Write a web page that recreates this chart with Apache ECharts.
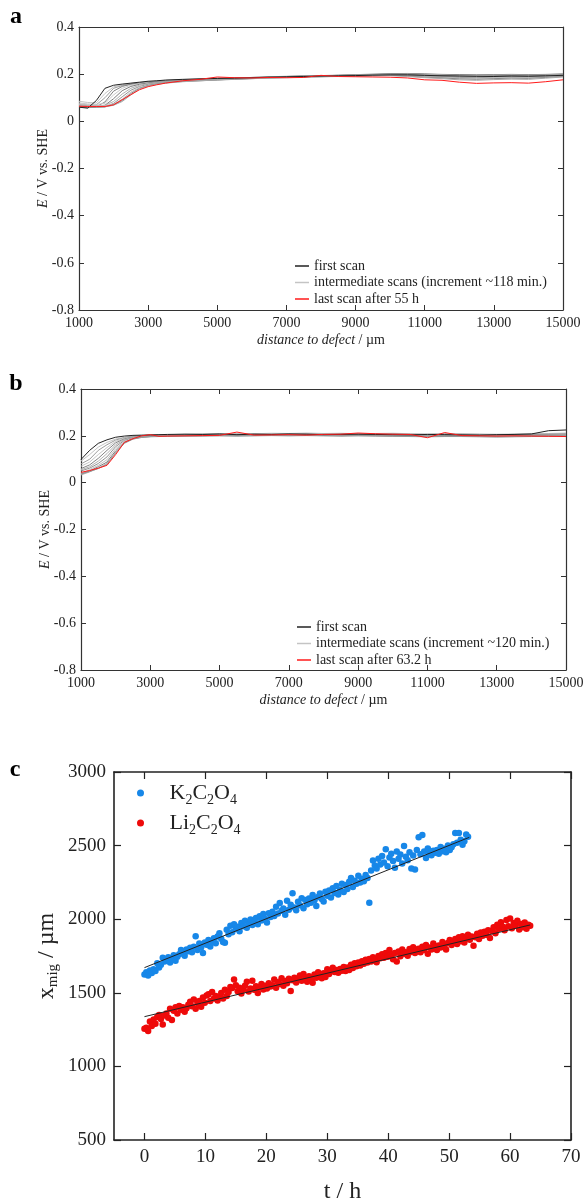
<!DOCTYPE html>
<html>
<head>
<meta charset="utf-8">
<title>SKP scans and delamination front</title>
<script src="https://cdn.jsdelivr.net/npm/echarts@6/dist/echarts.min.js"></script>
<style>
  html, body { margin: 0; padding: 0; background: #fff; }
  #main { width: 584px; height: 1201px; }
</style>
</head>
<body>
<div id="main"></div>
<script>
var FONT = "'Liberation Serif', 'Times New Roman', serif";

// ---- panels a / b : potential profiles (mV vs. SHE) ----
var distance = [1000, 1250, 1500, 1750, 2000, 2250, 2500, 2750, 3000, 3250, 3500,
  4000, 4500, 5000, 5500, 6000, 6500, 7000, 7500, 8000, 8500, 9000, 9500, 10000,
  10500, 11000, 11500, 12000, 12500, 13000, 13500, 14000, 14500, 15000];
var distTicks = [1000, 3000, 5000, 7000, 9000, 11000, 13000, 15000];

var firstScanA = [60, 56, 88, 140, 153, 158, 162, 166, 170, 172, 175, 178, 180, 182, 183, 185, 187,
  189, 190, 192, 193, 194, 196, 197, 197, 195, 193, 192, 191, 190, 192, 191, 193, 195];
var lastScanA = [64, 63, 63, 63, 70, 92, 113, 134, 147, 155, 162, 172, 178, 188, 185, 184, 186,
  185, 186, 195, 190, 189, 188, 187, 184, 176, 174, 166, 161, 163, 164, 162, 168, 176];
var midScansA = [
  [85, 80, 78, 118, 146, 155, 160, 164, 168, 171, 174, 177, 181, 183, 185, 186, 188, 190, 192, 193, 195, 197, 198, 199, 200, 199, 197, 196, 195, 194, 195, 196, 197, 198],
  [72, 66, 70, 100, 140, 152, 158, 163, 167, 170, 173, 176, 179, 182, 184, 186, 189, 191, 193, 194, 196, 197, 199, 201, 202, 200, 198, 197, 196, 196, 197, 197, 198, 200],
  [62, 58, 62, 82, 128, 148, 157, 162, 166, 169, 172, 175, 178, 181, 183, 186, 188, 190, 192, 193, 195, 198, 200, 202, 203, 201, 199, 198, 197, 198, 199, 198, 199, 201],
  [78, 74, 72, 76, 112, 140, 153, 160, 165, 168, 172, 174, 177, 180, 182, 184, 186, 189, 191, 193, 194, 196, 198, 199, 200, 198, 196, 194, 193, 195, 196, 195, 196, 199],
  [66, 62, 64, 68, 96, 130, 148, 157, 163, 167, 170, 173, 176, 179, 182, 184, 187, 189, 191, 192, 194, 196, 198, 200, 199, 196, 194, 192, 191, 193, 194, 193, 195, 197],
  [70, 68, 66, 68, 84, 116, 140, 153, 160, 165, 169, 172, 175, 178, 181, 183, 186, 188, 190, 192, 193, 195, 197, 198, 196, 193, 191, 189, 188, 190, 191, 190, 192, 195],
  [60, 58, 60, 62, 76, 104, 132, 148, 157, 163, 167, 171, 174, 177, 180, 182, 185, 187, 189, 191, 192, 194, 196, 197, 195, 191, 188, 186, 185, 187, 188, 187, 190, 193],
  [74, 70, 68, 66, 72, 94, 124, 143, 154, 161, 165, 170, 173, 176, 179, 182, 184, 186, 188, 190, 191, 193, 195, 196, 193, 189, 186, 183, 182, 184, 186, 185, 188, 192],
  [62, 60, 60, 61, 70, 88, 118, 140, 152, 159, 164, 169, 172, 175, 178, 181, 184, 186, 188, 189, 191, 192, 194, 195, 192, 187, 184, 180, 178, 181, 183, 182, 186, 190],
  [66, 63, 62, 62, 68, 84, 112, 138, 150, 157, 162, 168, 172, 176, 179, 181, 183, 185, 187, 189, 190, 191, 193, 194, 190, 185, 181, 176, 174, 177, 179, 178, 183, 188]
];

var firstScanB = [99, 138, 168, 183, 194, 199, 202, 203, 204, 205, 206, 207, 206, 208, 205, 207, 206,
  208, 207, 205, 206, 207, 206, 205, 204, 206, 205, 204, 203, 205, 206, 208, 222, 225];
var lastScanB = [44, 52, 62, 74, 120, 172, 188, 200, 205, 198, 199, 200, 201, 202, 216, 203, 204,
  205, 203, 206, 207, 212, 209, 207, 206, 192, 214, 201, 200, 199, 200, 199, 198, 197];
var midScansB = [
  [92, 120, 152, 172, 186, 194, 199, 201, 203, 204, 205, 207, 208, 209, 210, 209, 211, 210, 212, 210, 211, 209, 210, 211, 209, 208, 210, 209, 208, 207, 208, 209, 210, 212],
  [80, 100, 138, 162, 182, 192, 198, 201, 203, 203, 204, 206, 207, 208, 207, 208, 209, 208, 210, 209, 208, 210, 208, 209, 207, 206, 208, 207, 206, 205, 206, 207, 208, 209],
  [70, 88, 120, 150, 176, 190, 196, 200, 202, 203, 204, 205, 206, 207, 208, 209, 208, 210, 209, 208, 209, 208, 207, 208, 206, 205, 207, 206, 205, 204, 205, 206, 207, 208],
  [60, 76, 104, 138, 170, 187, 195, 199, 201, 202, 203, 204, 205, 206, 205, 207, 206, 208, 207, 206, 207, 206, 205, 207, 205, 204, 205, 205, 204, 203, 204, 205, 206, 207],
  [55, 68, 92, 124, 162, 184, 194, 198, 200, 201, 202, 204, 203, 205, 206, 205, 207, 206, 205, 207, 206, 205, 206, 205, 203, 202, 204, 203, 202, 201, 202, 203, 204, 205],
  [50, 62, 82, 110, 154, 180, 192, 197, 199, 200, 201, 202, 203, 204, 203, 204, 205, 204, 206, 205, 204, 203, 204, 203, 202, 201, 202, 201, 200, 200, 201, 202, 203, 204],
  [40, 56, 74, 98, 145, 176, 190, 196, 198, 199, 200, 201, 202, 203, 202, 203, 204, 203, 204, 203, 202, 203, 202, 201, 200, 199, 200, 200, 199, 198, 199, 200, 201, 203],
  [36, 50, 68, 88, 136, 172, 188, 195, 197, 198, 199, 200, 201, 202, 201, 202, 203, 202, 203, 202, 201, 202, 201, 200, 199, 198, 199, 199, 198, 197, 198, 199, 200, 202],
  [33, 46, 62, 82, 130, 170, 187, 194, 197, 198, 199, 200, 200, 201, 200, 201, 202, 201, 202, 201, 200, 201, 200, 199, 198, 197, 198, 198, 197, 196, 197, 198, 199, 201],
  [38, 48, 60, 78, 126, 168, 186, 193, 196, 197, 198, 199, 199, 200, 199, 200, 201, 200, 201, 200, 199, 200, 199, 198, 197, 196, 197, 197, 196, 195, 196, 197, 198, 200]
];

// ---- panel c : front position x_mig (µm), one value per scan ----
var kStepH = 0.3;   // time between K2C2O4 points (h)
var liStepH = 0.3;  // time between Li2C2O4 points (h)
var kXmig = [
  1625, 1640, 1618, 1652, 1635, 1660, 1648, 1700, 1672, 1690,
  1738, 1712, 1725, 1742, 1705, 1730, 1755, 1718, 1745, 1762,
  1790, 1768, 1752, 1795, 1782, 1806, 1776, 1812, 1885, 1790,
  1835, 1808, 1770, 1842, 1826, 1858, 1815, 1848, 1870, 1836,
  1882, 1905, 1868, 1845, 1840, 1928, 1897, 1955, 1912, 1966,
  1935, 1948, 1918, 1975, 1952, 1990, 1942, 1968, 1998, 1960,
  1985, 2008, 1966, 2020, 1992, 2035, 2002, 1978, 2040, 2015,
  2050, 2022, 2085, 2038, 2110, 2058, 2072, 2030, 2125, 2064,
  2098, 2176, 2080, 2060, 2118, 2095, 2142, 2075, 2130, 2102,
  2140, 2112, 2165, 2128, 2090, 2150, 2175, 2138, 2120, 2186,
  2160, 2195, 2148, 2210, 2178, 2225, 2168, 2200, 2240, 2185,
  2232, 2205, 2255, 2280, 2218, 2262, 2240, 2296, 2250, 2275,
  2258, 2300, 2280, 2112, 2330, 2398, 2365, 2345, 2410, 2372,
  2430, 2385, 2475, 2360, 2420, 2445, 2395, 2350, 2460, 2410,
  2440, 2378, 2498, 2425, 2400, 2455, 2345, 2432, 2338, 2470,
  2557, 2442, 2572, 2460, 2415, 2480, 2448, 2435, 2465, 2452,
  2470, 2445, 2490, 2462, 2478, 2455, 2500, 2470, 2488, 2510,
  2585, 2520, 2585, 2540, 2505, 2530, 2575, 2560
];
var liXmig = [
  1255, 1262, 1240, 1305, 1275, 1318, 1290, 1335, 1350, 1322,
  1285, 1345, 1360, 1330, 1392, 1315, 1378, 1402, 1360, 1410,
  1385, 1402, 1372, 1395, 1418, 1440, 1408, 1455, 1392, 1430,
  1445, 1405, 1468, 1432, 1482, 1490, 1445, 1505, 1462, 1478,
  1448, 1470, 1498, 1462, 1520, 1478, 1505, 1540, 1532, 1590,
  1552, 1510, 1535, 1495, 1522, 1548, 1575, 1508, 1530, 1582,
  1520, 1545, 1498, 1538, 1560, 1522, 1548, 1530, 1565, 1542,
  1552, 1590, 1535, 1572, 1560, 1598, 1548, 1580, 1565, 1595,
  1512, 1585, 1602, 1570, 1595, 1618, 1582, 1628, 1600, 1575,
  1612, 1590, 1568, 1625, 1602, 1640, 1615, 1598, 1632, 1608,
  1660, 1628, 1648, 1670, 1642, 1655, 1636, 1662, 1650, 1675,
  1648, 1672, 1655, 1690, 1668, 1700, 1680, 1705, 1685, 1715,
  1698, 1725, 1705, 1730, 1712, 1742, 1722, 1708, 1750, 1735,
  1762, 1738, 1770, 1745, 1790, 1755, 1728, 1770, 1712, 1780,
  1748, 1795, 1765, 1775, 1752, 1798, 1778, 1810, 1770, 1792,
  1800, 1775, 1812, 1790, 1825, 1765, 1808, 1795, 1835, 1812,
  1790, 1822, 1808, 1845, 1815, 1795, 1838, 1858, 1825, 1848,
  1865, 1832, 1878, 1850, 1885, 1842, 1870, 1895, 1860, 1882,
  1820, 1878, 1902, 1865, 1910, 1888, 1915, 1895, 1925, 1872,
  1920, 1945, 1905, 1962, 1935, 1980, 1948, 1925, 1995, 1952,
  2005, 1938, 1975, 1960, 1990, 1930, 1968, 1945, 1978, 1935,
  1962, 1955
];
var kFit = [[0, 1671], [53.3, 2556]];
var liFit = [[0, 1338], [63.3, 1961]];
var timeTicks = [0, 10, 20, 30, 40, 50, 60, 70];

// ---- styles ----
var shadesA = ['#c4c4c4', '#9c9c9c', '#808080', '#cacaca', '#7c7c7c', '#b0b0b0', '#949494', '#bebebe', '#888888', '#a8a8a8'];
var shadesB = ['#c4c4c4', '#9c9c9c', '#c6c6c6', '#848484', '#b0b0b0', '#929292', '#c0c0c0', '#7c7c7c', '#acacac', '#949494'];
var nameMidA = 'intermediate scans (increment ~118 min.)';
var nameMidB = 'intermediate scans (increment ~120 min.)';
var nameLastA = 'last scan after 55 h';
var nameLastB = 'last scan after 63.2 h';

function toVolts(ys) {
  return ys.map(function (v, i) { return [distance[i], v / 1000]; });
}
function toTime(ys, step) {
  return ys.map(function (v, i) { return [i * step, v]; });
}
function lineSeries(name, data, color, ax, z) {
  return {
    type: 'line', name: name, xAxisIndex: ax, yAxisIndex: ax, data: data,
    symbol: 'none', showSymbol: false, silent: true, z: z,
    lineStyle: { width: 1, color: color }, itemStyle: { color: color }
  };
}

var series = [];
midScansA.forEach(function (s, k) { series.push(lineSeries(nameMidA, toVolts(s), shadesA[k], 0, 2)); });
series.push(lineSeries('first scan', toVolts(firstScanA), '#222', 0, 3));
series.push(lineSeries(nameLastA, toVolts(lastScanA), '#ff1a1a', 0, 4));
midScansB.forEach(function (s, k) { series.push(lineSeries(nameMidB, toVolts(s), shadesB[k], 2, 2)); });
series.push(lineSeries('first scan', toVolts(firstScanB), '#222', 2, 3));
series.push(lineSeries(nameLastB, toVolts(lastScanB), '#ff1a1a', 2, 4));

series.push({ type: 'scatter', name: 'K2C2O4', xAxisIndex: 4, yAxisIndex: 4, data: toTime(kXmig, kStepH),
  symbolSize: 6.5, itemStyle: { color: '#1787e8', opacity: 1 }, z: 2 });
series.push({ type: 'scatter', name: 'Li2C2O4', xAxisIndex: 4, yAxisIndex: 4, data: toTime(liXmig, liStepH),
  symbolSize: 6.5, itemStyle: { color: '#ee0a0a', opacity: 1 }, z: 2 });
series.push({ type: 'line', xAxisIndex: 4, yAxisIndex: 4, data: kFit, symbol: 'none', silent: true,
  lineStyle: { width: 1, color: '#222' }, z: 5 });
series.push({ type: 'line', xAxisIndex: 4, yAxisIndex: 4, data: liFit, symbol: 'none', silent: true,
  lineStyle: { width: 1, color: '#222' }, z: 5 });

var axisCol = '#333';
var labelSmall = { fontFamily: FONT, fontSize: 14, color: '#222' };
var labelBig = { fontFamily: FONT, fontSize: 19, color: '#222' };

function potFmt(v) { return Math.abs(v) < 1e-9 ? '0' : v.toFixed(1); }
function plainFmt(v) { return String(v); }

function distAxes(grid) {
  var base = {
    type: 'value', gridIndex: grid, min: 1000, max: 15000,
    splitLine: { show: false },
    axisLine: { onZero: false, lineStyle: { color: axisCol, width: 1.2 } },
    axisTick: { inside: true, length: 5, customValues: distTicks, lineStyle: { color: axisCol } }
  };
  var bottom = Object.assign({}, base, {
    position: 'bottom',
    axisLabel: Object.assign({ customValues: distTicks, formatter: plainFmt, margin: 6 }, labelSmall),
    name: '{i|distance to defect}{n| / µm}', nameLocation: 'middle', nameGap: 23, nameMoveOverlap: false,
    nameTextStyle: { rich: {
      i: { fontFamily: FONT, fontSize: 14, fontStyle: 'italic', color: '#222' },
      n: { fontFamily: FONT, fontSize: 14, color: '#222' } } }
  });
  var top = Object.assign({}, base, { position: 'top', axisLabel: { show: false } });
  return [bottom, top];
}
function potAxes(grid) {
  var base = {
    type: 'value', gridIndex: grid, min: -0.8, max: 0.4, interval: 0.2,
    splitLine: { show: false },
    axisLine: { show: true, onZero: false, lineStyle: { color: axisCol, width: 1.2 } },
    axisTick: { show: true, inside: true, length: 5, lineStyle: { color: axisCol } }
  };
  var left = Object.assign({}, base, {
    position: 'left',
    axisLabel: Object.assign({ formatter: potFmt, margin: 5 }, labelSmall),
    name: '{i|E}{n| / V vs. SHE}', nameLocation: 'middle', nameGap: 29, nameRotate: 90, nameMoveOverlap: false,
    nameTextStyle: { rich: {
      i: { fontFamily: FONT, fontSize: 14, fontStyle: 'italic', color: '#222' },
      n: { fontFamily: FONT, fontSize: 14, color: '#222' } } }
  });
  var right = Object.assign({}, base, { position: 'right', axisLabel: { show: false } });
  return [left, right];
}

var timeBase = {
  type: 'value', gridIndex: 2, min: -5, max: 70,
  splitLine: { show: false },
  axisLine: { onZero: false, lineStyle: { color: '#222', width: 1.6 } },
  axisTick: { inside: true, length: 7, customValues: timeTicks, lineStyle: { color: '#222', width: 1.2 } }
};
var xmigBase = {
  type: 'value', gridIndex: 2, min: 500, max: 3000, interval: 500,
  splitLine: { show: false },
  axisLine: { show: true, onZero: false, lineStyle: { color: '#222', width: 1.6 } },
  axisTick: { show: true, inside: true, length: 7, lineStyle: { color: '#222', width: 1.2 } }
};

var subRich = {
  n: { fontFamily: FONT, fontSize: 22, color: '#222' },
  s: { fontFamily: FONT, fontSize: 14, color: '#222', padding: [14, 0, 0, 0] }
};

var option = {
  animation: false,
  backgroundColor: '#fff',
  grid: [
    { left: 79, top: 27, width: 484, height: 283, outerBoundsMode: 'none' },
    { left: 81, top: 389, width: 485, height: 281, outerBoundsMode: 'none' },
    { left: 114, top: 772, width: 457, height: 368, outerBoundsMode: 'none' }
  ],
  xAxis: distAxes(0).concat(distAxes(1)).concat([
    Object.assign({}, timeBase, {
      position: 'bottom',
      axisLabel: Object.assign({ customValues: timeTicks, formatter: plainFmt, margin: 8 }, labelBig),
      name: 't / h', nameLocation: 'middle', nameGap: 40, nameMoveOverlap: false,
      nameTextStyle: { fontFamily: FONT, fontSize: 24, color: '#222' }
    }),
    Object.assign({}, timeBase, { position: 'top', axisLabel: { show: false } })
  ]),
  yAxis: potAxes(0).concat(potAxes(1)).concat([
    Object.assign({}, xmigBase, {
      position: 'left',
      axisLabel: Object.assign({ formatter: plainFmt, margin: 8 }, labelBig),
      name: '{n|x}{s|mig}{n| / µm}', nameLocation: 'middle', nameGap: 53, nameRotate: 90, nameMoveOverlap: false,
      nameTextStyle: { rich: {
        n: { fontFamily: FONT, fontSize: 24, color: '#222' },
        s: { fontFamily: FONT, fontSize: 15, color: '#222', padding: [14, 0, 0, 0] } } }
    }),
    Object.assign({}, xmigBase, { position: 'right', axisLabel: { show: false } })
  ]),
  legend: [
    { data: ['first scan', nameMidA, nameLastA], orient: 'vertical', left: 290, top: 254,
      icon: 'rect', itemWidth: 14, itemHeight: 1.5, itemGap: 2.5, selectedMode: false,
      textStyle: labelSmall },
    { data: ['first scan', nameMidB, nameLastB], orient: 'vertical', left: 292, top: 615,
      icon: 'rect', itemWidth: 14, itemHeight: 1.5, itemGap: 2.5, selectedMode: false,
      textStyle: labelSmall },
    { data: ['K2C2O4', 'Li2C2O4'], orient: 'vertical', left: 132, top: 777,
      icon: 'circle', itemWidth: 48, itemHeight: 7, itemGap: 5, selectedMode: false,
      formatter: function (name) {
        return name === 'K2C2O4' ? '{n|K}{s|2}{n|C}{s|2}{n|O}{s|4}' : '{n|Li}{s|2}{n|C}{s|2}{n|O}{s|4}';
      },
      textStyle: { rich: subRich } }
  ],
  graphic: [
    { type: 'text', style: { x: 16, y: 17, text: 'a', textAlign: 'center', textVerticalAlign: 'middle', font: 'bold 24px ' + FONT, fill: '#000' } },
    { type: 'text', style: { x: 16, y: 384, text: 'b', textAlign: 'center', textVerticalAlign: 'middle', font: 'bold 24px ' + FONT, fill: '#000' } },
    { type: 'text', style: { x: 15, y: 770, text: 'c', textAlign: 'center', textVerticalAlign: 'middle', font: 'bold 24px ' + FONT, fill: '#000' } }
  ],
  series: series
};

var chart = echarts.init(document.getElementById('main'), null, { renderer: 'canvas' });
chart.setOption(option);
</script>
</body>
</html>
